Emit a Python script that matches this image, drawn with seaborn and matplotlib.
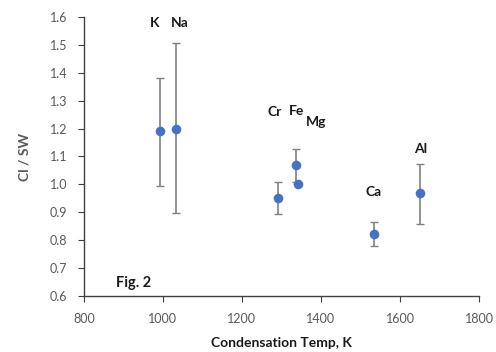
import matplotlib
matplotlib.use("Agg")
import matplotlib.pyplot as plt
import seaborn as sns
import pandas as pd

elements = ["K", "Na", "Cr", "Fe", "Mg", "Ca", "Al"]
temps = [992, 1033, 1290, 1337, 1342, 1534, 1651]
ratios = [1.19, 1.20, 0.952, 1.07, 1.00, 0.822, 0.968]
err_hi = [1.38, 1.505, 1.008, 1.128, 1.00, 0.864, 1.074]
err_lo = [0.995, 0.898, 0.893, 1.01, 1.00, 0.779, 0.859]
label_x = [980, 1043, 1283, 1339, 1387, 1534, 1653]
label_y = [1.578, 1.578, 1.259, 1.262, 1.222, 0.973, 1.127]

df = pd.DataFrame({"el": elements, "T": temps, "r": ratios})

sns.set_theme(style="white")
plt.rcParams['font.family'] = ['Lato', 'DejaVu Sans']

fig = plt.figure(figsize=(4.96, 3.52), dpi=100)
ax = fig.add_axes([0.169, 0.159, 0.797, 0.793])

lo = [r - l for r, l in zip(ratios, err_lo)]
hi = [h - r for r, h in zip(ratios, err_hi)]
ax.errorbar(temps, ratios, yerr=[lo, hi], fmt="none", ecolor="#808080",
            elinewidth=1.2, capsize=3, capthick=1.0, zorder=1)
sns.scatterplot(data=df, x="T", y="r", ax=ax, color="#4472C4", s=48,
                edgecolor="#4472C4", linewidth=0, zorder=3, legend=False)

for e, x, y in zip(elements, label_x, label_y):
    ax.text(x, y, e, ha="center", va="center", fontsize=10,
            fontweight="bold", color="#1a1a1a")
ax.text(927, 0.647, "Fig. 2", ha="center", va="center", fontsize=10.5,
        fontweight="bold", color="#1a1a1a")

ax.set_xlim(800, 1800)
ax.set_ylim(0.6, 1.6)
ax.set_xticks([800, 1000, 1200, 1400, 1600, 1800])
ax.set_yticks([0.6, 0.7, 0.8, 0.9, 1.0, 1.1, 1.2, 1.3, 1.4, 1.5, 1.6])
ax.set_yticklabels([f"{v:.1f}" for v in ax.get_yticks()])

ax.set_xlabel("Condensation Temp, K", fontsize=10, fontweight="bold",
              color="#1a1a1a", labelpad=9)
ax.set_ylabel("Cl / SW", fontsize=10, fontweight="bold", color="#595959",
              labelpad=14)

for s in ["top", "right"]:
    ax.spines[s].set_visible(False)
for s in ["left", "bottom"]:
    ax.spines[s].set_color("#404040")
    ax.spines[s].set_linewidth(1.0)
ax.tick_params(axis="both", which="major", direction="out", length=4,
               width=0.8, color="#404040", labelsize=9, labelcolor="#595959",
               left=True, bottom=True)
ax.tick_params(axis="y", pad=8)
ax.tick_params(axis="x", pad=8)

fig.savefig("out.png", dpi=100)
